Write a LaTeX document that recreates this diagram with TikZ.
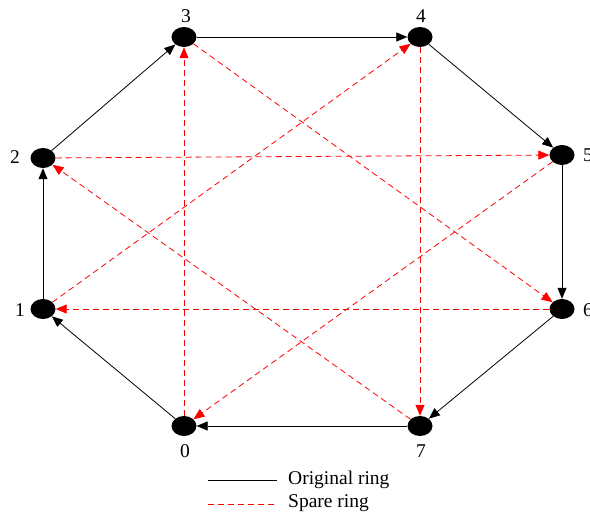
\documentclass[tikz,border=0pt]{standalone}
\usepackage{fontspec}
\setmainfont{Liberation Serif}
\usetikzlibrary{shapes.geometric,arrows.meta}
\begin{document}
\begin{tikzpicture}[x=1pt,y=-1pt,
  vtx/.style={ellipse,fill=black,minimum width=25pt,minimum height=20pt,inner sep=0pt},
  lbl/.style={font=\fontsize{19.5}{21}\selectfont,inner sep=0pt},
  ring/.style={black,line width=0.8pt,-{Triangle[length=11pt,width=9pt]}},
  spare/.style={red,line width=0.8pt,dash pattern=on 6pt off 4pt,-{Triangle[length=11pt,width=9pt]}}]
\useasboundingbox (0,0) rectangle (590,513);
\node[vtx] (n0) at (184,426) {};
\node[vtx] (n1) at (43,309) {};
\node[vtx] (n2) at (43,158) {};
\node[vtx] (n3) at (184,37) {};
\node[vtx] (n4) at (420,37) {};
\node[vtx] (n5) at (562,155) {};
\node[vtx] (n6) at (562,309) {};
\node[vtx] (n7) at (420,426) {};
\node[lbl] (l0) at (185,451) {0};
\node[lbl] (l1) at (20,310) {1};
\node[lbl] (l2) at (15,157) {2};
\node[lbl] (l3) at (186,16) {3};
\node[lbl] (l4) at (421,16) {4};
\node[lbl] (l5) at (588,155) {5};
\node[lbl] (l6) at (588,310) {6};
\node[lbl] (l7) at (421,451) {7};
\draw[ring] (n0) -- (n1);
\draw[ring] (n1) -- (n2);
\draw[ring] (n2) -- (n3);
\draw[ring] (n3) -- (n4);
\draw[ring] (n4) -- (n5);
\draw[ring] (n5) -- (n6);
\draw[ring] (n6) -- (n7);
\draw[ring] (n7) -- (n0);
\draw[spare] (n0) -- (n3);
\draw[spare] (n2) -- (n5);
\draw[spare] (n5) -- (n0);
\draw[spare] (n4) -- (n7);
\draw[spare] (n1) -- (n4);
\draw[spare] (n6) -- (n1);
\draw[spare] (n7) -- (n2);
\draw[spare] (n3) -- (n6);
\coordinate (a1) at (208,480);
\coordinate (a2) at (277,480);
\coordinate (b1) at (208,504);
\coordinate (b2) at (277,504);
\draw[black,line width=0.8pt] (a1) -- (a2);
\draw[red,line width=0.8pt,dash pattern=on 6pt off 4pt] (b1) -- (b2);
\node[lbl,anchor=west] (t1) at (288,480) {Original ring};
\node[lbl,anchor=west] (t2) at (288,503) {Spare ring};
\end{tikzpicture}
\end{document}
